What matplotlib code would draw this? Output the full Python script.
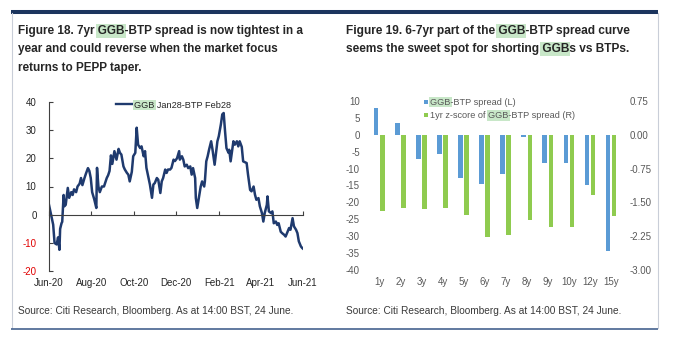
import numpy as np
import pandas as pd
import matplotlib
matplotlib.use('Agg')
import matplotlib.pyplot as plt
import matplotlib.dates as mdates
from matplotlib.patches import Rectangle
from matplotlib.lines import Line2D
from matplotlib.ticker import FuncFormatter

plt.rcParams['font.family'] = ['Liberation Sans Narrow', 'Liberation Sans', 'DejaVu Sans']
plt.rcParams['axes.unicode_minus'] = False

# ---------------- data ----------------
start_date = '2020-06-24'
obs_day = [0, 3, 6, 8, 11, 13, 15, 16, 18, 19, 21, 22, 24, 27, 29, 32, 34, 36, 39, 41,
           44, 46, 48, 51, 53, 56, 58, 60, 62, 65, 68, 69, 71, 73, 76, 79, 83, 85, 87, 89,
           91, 94, 97, 100, 102, 104, 107, 109, 112, 114, 116, 119, 121, 124, 126, 128, 131, 133, 136, 138,
           140, 143, 145, 148, 150, 152, 155, 157, 160, 162, 164, 167, 169, 171, 174, 176, 179, 181, 184, 187,
           188, 191, 193, 195, 198, 200, 203, 205, 207, 210, 211, 213, 216, 218, 220, 223, 224, 226, 228, 230,
           233, 235, 238, 240, 242, 244, 247, 249, 251, 253, 255, 258, 259, 261, 263, 265, 267, 270, 272, 274,
           277, 279, 284, 286, 289, 291, 294, 296, 298, 301, 303, 306, 308, 310, 313, 314, 316, 319, 321, 323,
           326, 328, 330, 333, 335, 338, 340, 342, 345, 347, 350, 352, 355, 357, 359, 362, 364, 365]
spread_7y = [3.5, 0, -3.5, -10, -10.5, -8, -12.4, -5, -3, -2.5, 7, 3, 3.5, 9.5, 6, 8, 7, 9, 8, 10,
             11, 13, 10.5, 13, 14.5, 16.5, 15.5, 13, 8, 5.5, 2.4, 16.6, 10, 8, 10, 10, 13, 14, 15.5, 21,
             18, 22.5, 19.5, 23.3, 21.9, 21.3, 17.1, 16, 14.8, 14.2, 11.8, 15.2, 20.7, 21.9, 30.8, 24.8, 23.6, 24.2, 20.7, 22.5,
             16.6, 13, 10.7, 6, 10.7, 11.2, 13, 12.4, 7.7, 11.8, 13, 16, 14.8, 16, 16, 16.6, 19.5, 19, 20, 22.5,
             19.5, 20.7, 19.5, 17.1, 17.7, 16.5, 17.1, 14.2, 16.5, 13, 5.9, 2.4, 7.1, 10, 11.8, 10, 11.8, 18.9, 20.7, 23,
             26, 23, 17.7, 21.9, 26, 27.8, 32, 35.5, 36, 29.5, 23.6, 21.9, 23, 18.9, 22.5, 26, 24.8, 26, 24.2, 26,
             24, 18.9, 18.3, 14.2, 8.8, 8.3, 10, 7.1, 5.3, 5.9, 3, 0.6, -2.4, 0.6, 3.5, 6.5, 1.2, 0.6, 1.2, -3,
             -2.4, -3.6, -3, -6, -6.5, -7.1, -7.7, -6.5, -4.7, -5.3, -1.2, -4.1, -5.3, -6.5, -9.4, -11.2, -11.8, -12]
left_xtick_dates = ['2020-06-24', '2020-08-24', '2020-10-24', '2020-12-24',
                    '2021-02-24', '2021-04-24', '2021-06-24']
left_xtick_labels = ['Jun-20', 'Aug-20', 'Oct-20', 'Dec-20', 'Feb-21', 'Apr-21', 'Jun-21']
left_yticks = [-20, -10, 0, 10, 20, 30, 40]
left_series_label = 'GGB Jan28-BTP Feb28'

tenors = ['1y', '2y', '3y', '4y', '5y', '6y', '7y', '8y', '9y', '10y', '12y', '15y']
spread_bp = [7.9, 3.45, -7.2, -5.7, -12.8, -14.5, -11.5, -0.6, -8.4, -8.4, -15.0, -34.3]
zscore_1y = [-1.69, -1.63, -1.65, -1.62, -1.79, -2.26, -2.23, -1.90, -2.04, -2.04, -1.33, -1.80]
right_left_ticks = [-40, -35, -30, -25, -20, -15, -10, -5, 0, 5, 10]
right_right_ticks = [-3.0, -2.25, -1.5, -0.75, 0.0, 0.75]
bar_labels = ['GGB-BTP spread (L)', '1yr z-score of GGB-BTP spread (R)']

title_left = ['Figure 18. 7yr GGB-BTP spread is now tightest in a',
              'year and could reverse when the market focus',
              'returns to PEPP taper.']
title_right = ['Figure 19. 6-7yr part of the GGB-BTP spread curve',
               'seems the sweet spot for shorting GGBs vs BTPs.']
source_text = 'Source: Citi Research, Bloomberg. As at 14:00 BST, 24 June.'

# ---------------- style ----------------
W, H = 682, 338
NAVY = '#1f3a6e'
BLUE = '#5b9bd5'
GREEN = '#8fcb4f'
HL = '#c8e7c8'
TXT = '#262626'
GREY = '#595959'
TICK_FS = 7
LEG_FS = 6.6

fig = plt.figure(figsize=(W / 100, H / 100), dpi=100)
fig.patch.set_facecolor('white')
renderer = fig.canvas.get_renderer()


def fx(x):
    return x / W


def fy(y):
    return 1 - y / H


def axes_px(l, t, r, b):
    return fig.add_axes([fx(l), fy(b), (r - l) / W, (b - t) / H])


def text_px(x, y, s, size, weight='normal', color=TXT, hl_word='GGB'):
    t = fig.text(fx(x), fy(y), s, fontsize=size, fontweight=weight, color=color,
                 ha='left', va='baseline', zorder=3)
    fp = t.get_fontproperties()
    em = size * 100 / 72
    i = s.find(hl_word)
    while i >= 0 and hl_word:
        end_w = renderer.get_text_width_height_descent(s[:i + len(hl_word)], fp, ismath=False)[0]
        w_word = renderer.get_text_width_height_descent(hl_word, fp, ismath=False)[0]
        x0 = x + end_w - w_word - 1.5
        fig.add_artist(Rectangle((fx(x0), fy(y + 0.3 * em)), (w_word + 3) / W, 1.15 * em / H,
                                 transform=fig.transFigure, facecolor=HL, edgecolor='none', zorder=2))
        i = s.find(hl_word, i + 1)
    return t


# frame lines
fig.add_artist(Line2D([fx(11), fx(658)], [fy(11.5), fy(11.5)], transform=fig.transFigure,
                      color='#1c355e', lw=2.9, solid_capstyle='butt'))
fig.add_artist(Line2D([fx(11.5), fx(11.5)], [fy(13), fy(328)], transform=fig.transFigure,
                      color='#c9ced8', lw=0.8))
fig.add_artist(Line2D([fx(658), fx(658)], [fy(13), fy(328)], transform=fig.transFigure,
                      color='#c9ced8', lw=0.8))
fig.add_artist(Line2D([fx(11), fx(658)], [fy(329), fy(329)], transform=fig.transFigure,
                      color='#45628f', lw=1.2, solid_capstyle='butt'))

# titles
for k, line in enumerate(title_left):
    text_px(18, 34.3 + 18.1 * k, line, 8.5, weight='bold')
for k, line in enumerate(title_right):
    text_px(345.6, 34.3 + 18.1 * k, line, 8.6, weight='bold')

# sources
text_px(17.5, 313.5, source_text, 7.25, color='#3a3a3a')
text_px(345.5, 313.5, source_text, 7.25, color='#3a3a3a')

# ---------------- left chart ----------------
axL = axes_px(49, 101.7, 303, 271.3)
t0 = pd.Timestamp(start_date)
xdates = mdates.date2num(t0 + pd.to_timedelta(obs_day, unit='D'))
tick_nums = mdates.date2num(pd.to_datetime(left_xtick_dates))
axL.plot(xdates, spread_7y, color=NAVY, lw=1.8, solid_joinstyle='round')
axL.set_xlim(tick_nums[0], tick_nums[-1])
axL.set_ylim(left_yticks[0], left_yticks[-1])
axL.patch.set_alpha(0)
for sp in ['top', 'right']:
    axL.spines[sp].set_visible(False)
axL.spines['bottom'].set_position(('data', 0))
for sp in ['bottom', 'left']:
    axL.spines[sp].set_color('#404040')
    axL.spines[sp].set_linewidth(0.8)
axL.set_yticks(left_yticks)
axL.tick_params(axis='y', direction='in', length=3, width=0.8, color='#404040',
                pad=9, labelsize=TICK_FS, labelcolor=TXT)
for lbl, v in zip(axL.get_yticklabels(), left_yticks):
    if v < 0:
        lbl.set_color('#e00000')
axL.set_xticks(tick_nums)
axL.tick_params(axis='x', direction='in', length=3, width=0.8, color='#404040', labelbottom=False)
sec = axL.secondary_xaxis('bottom')
sec.set_xticks(tick_nums, labels=left_xtick_labels)
sec.tick_params(length=0, pad=5, labelsize=TICK_FS, labelcolor=TXT)
sec.spines['bottom'].set_visible(False)

# left legend
fig.add_artist(Line2D([fx(116.5), fx(132.6)], [fy(104.3), fy(104.3)], transform=fig.transFigure,
                      color=NAVY, lw=1.7))
text_px(134, 107.5, left_series_label, LEG_FS, color=TXT)

# ---------------- right chart ----------------
axR = axes_px(368.8, 101, 621.5, 270)
x = np.arange(len(tenors))
axR.bar(x - 0.147, spread_bp, width=0.21, color=BLUE)
axR.set_xlim(-0.5, len(tenors) - 0.5)
axR.set_ylim(right_left_ticks[0], right_left_ticks[-1])
axR.set_yticks(right_left_ticks)
axR.set_xticks(x, labels=tenors)
axR.tick_params(axis='both', length=0, labelsize=TICK_FS, labelcolor=GREY)
axR.tick_params(axis='y', pad=6.5)
axR.tick_params(axis='x', pad=5)
axR2 = axR.twinx()
axR2.bar(x + 0.147, zscore_1y, width=0.22, color=GREEN)
axR2.set_ylim(right_right_ticks[0], right_right_ticks[-1])
axR2.set_yticks(right_right_ticks)
axR2.yaxis.set_major_formatter(FuncFormatter(lambda v, p: f'{v:.2f}'))
axR2.tick_params(axis='y', length=0, labelsize=TICK_FS, labelcolor=GREY, pad=6)
for a in (axR, axR2):
    for sp in a.spines.values():
        sp.set_visible(False)

# right legend
fig.add_artist(Rectangle((fx(423.7), fy(104.2)), 4.6 / W, 4.6 / H, transform=fig.transFigure,
                         facecolor=BLUE, edgecolor='none'))
text_px(430.5, 104.6, bar_labels[0], LEG_FS, color=GREY)
fig.add_artist(Rectangle((fx(423.7), fy(117.5)), 4.6 / W, 4.6 / H, transform=fig.transFigure,
                         facecolor=GREEN, edgecolor='none'))
text_px(430.5, 118, bar_labels[1], LEG_FS, color=GREY)

fig.savefig('out.png', dpi=100, facecolor='white')
